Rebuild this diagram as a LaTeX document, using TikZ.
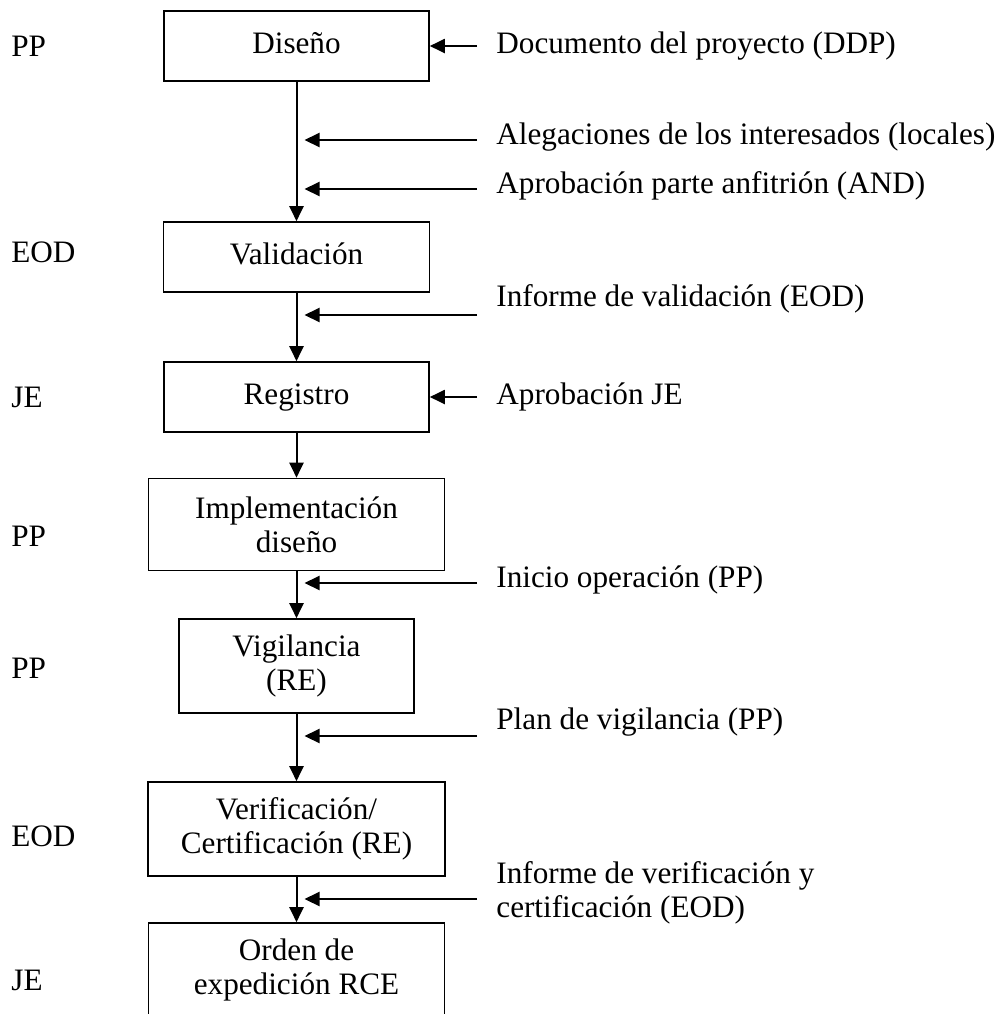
\documentclass[tikz,border=0pt]{standalone}
\usepackage{fontspec}
\setmainfont{Liberation Serif}
\usetikzlibrary{arrows.meta,positioning}

\begin{document}
\begin{tikzpicture}[
    x=0.5pt, y=-0.5pt,
    txt/.style={font=\fontsize{15.6}{17}\selectfont},
    stage/.style={txt, draw, line width=0.8pt, align=center, inner sep=0pt},
    oneline/.style={text height=10.5pt, text depth=3.5pt},
    actor/.style={txt, anchor=west, inner sep=0pt},
    input/.style={txt, anchor=west, inner sep=0pt, align=left},
    arrow/.style={-{Triangle[length=7.5pt,width=7pt]}, line width=1pt}
]
    \useasboundingbox (0,0) rectangle (996,1014);

    % stages
    \node[stage, oneline, minimum width=132.5pt, minimum height=35pt] (diseno) at (296.5,46) {Diseño};
    \node[stage, oneline, minimum width=133pt, minimum height=35pt] (valid) at (296.5,257) {Validación};
    \node[stage, oneline, minimum width=132.5pt, minimum height=35pt] (regis) at (296.5,397) {Registro};
    \node[stage, minimum width=148pt, minimum height=46pt] (impl) at (296.5,524.5) {Implementación\\diseño};
    \node[stage, minimum width=117.5pt, minimum height=47pt] (vigil) at (296.5,666) {Vigilancia\\(RE)};
    \node[stage, minimum width=148.5pt, minimum height=47pt] (verif) at (296.5,829) {Verificación/\\Certificación (RE)};
    \node[stage, minimum width=148pt, minimum height=47pt] (orden) at (296.5,970) {Orden de\\expedición RCE};

    % actors
    \node[actor] (a1) at (11,46) {PP};
    \node[actor] (a2) at (11,252) {EOD};
    \node[actor] (a3) at (11,397) {JE};
    \node[actor] (a4) at (11,536) {PP};
    \node[actor] (a5) at (11,668) {PP};
    \node[actor] (a6) at (11,836) {EOD};
    \node[actor] (a7) at (11,980) {JE};

    % inputs
    \node[input] (ddp) at (496,46) {Documento del proyecto (DDP)};
    \node[input] (aleg) at (496,137) {Alegaciones de los interesados (locales)};
    \node[input] (aprob) at (496,186) {Aprobación parte anfitrión (AND)};
    \node[input] (infval) at (496,299) {Informe de validación (EOD)};
    \node[input] (aprje) at (496,397) {Aprobación JE};
    \node[input] (inicio) at (496,580) {Inicio operación (PP)};
    \node[input] (plan) at (496,722) {Plan de vigilancia (PP)};
    \node[input] (infver) at (496,893) {Informe de verificación y\\certificación (EOD)};

    \coordinate (s1) at (477,46);
    \coordinate (s2) at (477,140);
    \coordinate (s3) at (477,189);
    \coordinate (s4) at (477,315);
    \coordinate (s5) at (477,397);
    \coordinate (s6) at (477,583);
    \coordinate (s7) at (477,736);
    \coordinate (s8) at (477,899);

    % flow
    \draw[arrow] (diseno.south) -- (valid.north);
    \draw[arrow] (valid.south) -- (regis.north);
    \draw[arrow] (regis.south) -- (impl.north);
    \draw[arrow] (impl.south) -- (vigil.north);
    \draw[arrow] (vigil.south) -- (verif.north);
    \draw[arrow] (verif.south) -- (orden.north);

    \draw[arrow] (s1) -- (diseno.east);
    \draw[arrow] (s2) -- ([xshift=4pt]s2 -| diseno.south);
    \draw[arrow] (s3) -- ([xshift=4pt]s3 -| diseno.south);
    \draw[arrow] (s4) -- ([xshift=4pt]s4 -| valid.south);
    \draw[arrow] (s5) -- (regis.east);
    \draw[arrow] (s6) -- ([xshift=4pt]s6 -| impl.south);
    \draw[arrow] (s7) -- ([xshift=4pt]s7 -| vigil.south);
    \draw[arrow] (s8) -- ([xshift=4pt]s8 -| verif.south);
\end{tikzpicture}
\end{document}
